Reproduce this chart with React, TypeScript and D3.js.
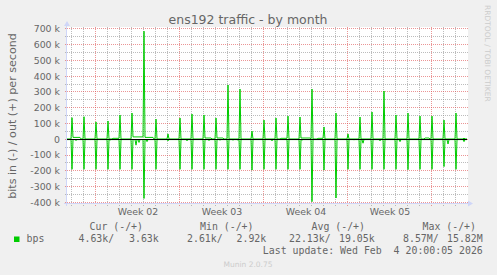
import React from "react";
import * as d3 from "d3";

const W = 497;
const H = 275;

// ---- data (values in k bits/s) ----
const spikeDays = [
  "2026-01-03", "2026-01-04", "2026-01-05", "2026-01-06", "2026-01-07", "2026-01-08", "2026-01-09",
  "2026-01-10", "2026-01-11", "2026-01-12", "2026-01-13", "2026-01-14", "2026-01-15", "2026-01-16",
  "2026-01-17", "2026-01-18", "2026-01-19", "2026-01-20", "2026-01-21", "2026-01-22", "2026-01-23",
  "2026-01-24", "2026-01-25", "2026-01-26", "2026-01-27", "2026-01-28", "2026-01-29", "2026-01-30",
  "2026-01-31", "2026-02-01", "2026-02-02", "2026-02-03", "2026-02-04",
];
const outPeaks = [
  137, 143, 110, 116, 154, 166, 685, 128, 34, 135, 160, 154, 135, 344, 318, 52, 122, 135, 147, 141,
  318, 78, 166, 34, 141, 173, 306, 154, 166, 147, 147, 122, 166,
];
const inPeaks = [
  -190, -190, -190, -190, -190, -190, -375, -190, -10, -190, -190, -190, -190, -190, -190, -195, -190,
  -190, -190, -190, -395, -195, -372, -190, -190, -190, -190, -190, -192, -190, -190, -173, -190,
];
const outPlateaus: [string, string, number][] = [
  ["2026-01-03T02", "2026-01-03T16", 12],
  ["2026-01-06T10", "2026-01-06T22", 6],
  ["2026-01-08T02", "2026-01-08T22", 15],
  ["2026-01-09T02", "2026-01-09T18", 12],
  ["2026-01-14T02", "2026-01-14T14", 8],
  ["2026-01-15T02", "2026-01-15T14", 8],
  ["2026-01-20T10", "2026-01-20T22", 6],
  ["2026-01-22T02", "2026-01-22T20", 8],
  ["2026-01-23T12", "2026-01-23T22", 6],
  ["2026-02-01T10", "2026-02-01T18", 8],
];
const outBumps: [string, number][] = [["2026-02-04T16", 8]];
const inDips: [string, number][] = [
  ["2026-01-03T08", -8], ["2026-01-06T04", -5], ["2026-01-08T08", -37], ["2026-01-08T14", -20],
  ["2026-01-09T06", -15], ["2026-01-12T14", -10], ["2026-01-14T10", -8], ["2026-01-15T08", -5],
  ["2026-01-16T10", -5], ["2026-01-16T20", -5], ["2026-01-19T16", -10], ["2026-01-22T04", -5],
  ["2026-01-26T12", -3], ["2026-01-27T06", -25], ["2026-01-28T16", -10], ["2026-01-30T08", -15],
  ["2026-02-03T08", -30], ["2026-02-04T16", -15],
];
const outBase = 2;
const inBase = -2;

const startTime = "2026-01-02T14";
const endTime = "2026-02-04T22";

const yTicks = [700, 600, 500, 400, 300, 200, 100, 0, -100, -200, -300, -400];
const weekLabels = ["Week 02", "Week 03", "Week 04", "Week 05"];
const weekMids = ["2026-01-08T12", "2026-01-15T12", "2026-01-22T12", "2026-01-29T12"];

const legendHeaders = ["Cur (-/+)", "Min (-/+)", "Avg (-/+)", "Max (-/+)"];
const legendValues = ["4.63k/", "3.63k", "2.61k/", "2.92k", "22.13k/", "19.05k", "8.57M/", "15.82M"];
const lastUpdate = "Last update: Wed Feb  4 20:00:05 2026";

// ---- helpers ----
const HOUR2 = 2 * 3600 * 1000;
const parse = (s: string) =>
  new Date(s.length === 10 ? s + "T00:00:00Z" : s + ":00:00Z").getTime();

function buildSeries(
  peaks: number[],
  plateaus: [string, string, number][],
  marks: [string, number][],
  base: number
): [number, number][] {
  const m = new Map<number, number>();
  spikeDays.forEach((d, i) => m.set(parse(d), peaks[i] * 1000));
  marks.forEach(([s, v]) => m.set(parse(s), v * 1000));
  plateaus.forEach(([s, e, v]) => {
    m.set(parse(s), v * 1000);
    m.set(parse(e), v * 1000);
  });
  const setIf = (t: number, v: number) => {
    if (!m.has(t)) m.set(t, v);
  };
  spikeDays.forEach((d) => {
    const t = parse(d);
    setIf(t - HOUR2, base * 1000);
    setIf(t + HOUR2, base * 1000);
  });
  marks.forEach(([s]) => {
    const t = parse(s);
    setIf(t - HOUR2, base * 1000);
    setIf(t + HOUR2, base * 1000);
  });
  plateaus.forEach(([s, e]) => {
    setIf(parse(s) - HOUR2, base * 1000);
    setIf(parse(e) + HOUR2, base * 1000);
  });
  setIf(parse(startTime), base * 1000);
  setIf(parse(endTime), base * 1000);
  return [...m.entries()]
    .filter(([t]) => t >= parse(startTime) && t <= parse(endTime))
    .sort((a, b) => a[0] - b[0]);
}

export default function App() {
  const x = d3.scaleUtc().domain([parse(startTime), parse(endTime)]).range([67, 467]);
  const y = d3.scaleLinear().domain([-410000, 700000]).range([204, 28.8]);
  const crisp = (v: number) => Math.floor(v) + 0.5;

  const outSeries = buildSeries(outPeaks, outPlateaus, outBumps, outBase);
  const inSeries = buildSeries(inPeaks, [], inDips, inBase);
  const line = d3
    .line<[number, number]>()
    .x((d) => x(d[0]))
    .y((d) => y(d[1]));

  const days = d3.utcDay.range(new Date(parse(startTime)), new Date(parse(endTime)));
  const minorY = d3.range(-400000, 700001, 50000).filter((v) => v % 100000 !== 0);

  const font = "'DejaVu Sans', sans-serif";
  const mono = "'DejaVu Sans Mono', monospace";
  const fc = "#666666";
  const axisC = "#CFD6F8";
  const grid = "rgba(143,143,143,0.6)";
  const mgrid = "rgba(222,79,79,0.6)";

  const valueX = [78.5, 129, 187, 236.5, 289, 339, 403, 447];
  const headerX = [89.5, 200, 311.5, 422.5];

  return (
    <svg
      width={W}
      height={H}
      style={{ position: "absolute", left: 0, top: 0 }}
      xmlns="http://www.w3.org/2000/svg"
    >
      <rect x={0} y={0} width={W} height={H} fill="#F0F0F0" />
      <rect x={67} y={27} width={401} height={177} fill="#FFFFFF" />

      {/* minor horizontal grid */}
      {minorY.map((v) => (
        <line key={"my" + v} x1={65} x2={468} y1={crisp(y(v))} y2={crisp(y(v))}
          stroke={grid} strokeDasharray="1,1" strokeWidth={1} />
      ))}
      {/* vertical grid */}
      {days.map((d) => {
        const isMajor = d.getUTCDay() === 1;
        const xx = crisp(x(d) - 0.5);
        return (
          <line key={"vx" + d.getTime()} x1={xx} x2={xx} y1={27} y2={206}
            stroke={isMajor ? mgrid : grid} strokeDasharray="1,1" strokeWidth={1} />
        );
      })}
      {/* major horizontal grid */}
      {yTicks.map((v) => (
        <line key={"My" + v} x1={65} x2={468} y1={crisp(y(v * 1000))} y2={crisp(y(v * 1000))}
          stroke={mgrid} strokeDasharray="1,1" strokeWidth={1} />
      ))}

      {/* axes */}
      <line x1={66.5} x2={66.5} y1={206} y2={24} stroke={axisC} strokeWidth={1} />
      <polygon points="64,26 70,26 67,21" fill={axisC} />
      <line x1={64} x2={469} y1={203.5} y2={203.5} stroke={axisC} strokeWidth={1} />
      <polygon points="468,200.5 468,206.5 473,203.5" fill={axisC} />

      {/* series */}
      <path d={line(outSeries) || ""} fill="none" stroke="#00CC00" strokeWidth={1} />
      <path d={line(inSeries) || ""} fill="none" stroke="#00CC00" strokeWidth={1} />
      <line x1={67} x2={467} y1={crisp(y(0))} y2={crisp(y(0))} stroke="#000000" strokeWidth={1} />

      {/* y tick labels */}
      {yTicks.map((v) => (
        <text key={"yl" + v} x={60} y={y(v * 1000) + 3.4} textAnchor="end"
          fontFamily={font} fontSize={9.4} fill={fc}>
          {v === 0 ? "0" : `${v} k`}
        </text>
      ))}
      {/* x labels */}
      {weekLabels.map((l, i) => (
        <text key={l} x={x(parse(weekMids[i]))} y={215.3} textAnchor="middle"
          fontFamily={font} fontSize={9.4} fill={fc}>
          {l}
        </text>
      ))}

      {/* title */}
      <text x={248} y={24} textAnchor="middle" fontFamily={font} fontSize={12.5} fill={fc}>
        ens192 traffic - by month
      </text>
      {/* y axis title */}
      <text transform="translate(15.5,116) rotate(-90)" textAnchor="middle"
        fontFamily={font} fontSize={11.1} fill={fc}>
        bits in (-) / out (+) per second
      </text>
      {/* watermark side */}
      <text transform="translate(485,5) rotate(90)" textAnchor="start"
        fontFamily={font} fontSize={7.5} fill="#CCCCCC">
        RRDTOOL / TOBI OETIKER
      </text>

      {/* legend */}
      {legendHeaders.map((h, i) => (
        <text key={h} x={headerX[i]} y={230} fontFamily={mono} fontSize={9.9} fill={fc}
          style={{ whiteSpace: "pre" }}>
          {h}
        </text>
      ))}
      <rect x={14} y={236.5} width={5.5} height={5.5} fill="#00CC00" />
      <text x={26.5} y={242.3} fontFamily={mono} fontSize={9.9} fill={fc}>bps</text>
      {legendValues.map((v, i) => (
        <text key={"lv" + i} x={valueX[i]} y={242.3} fontFamily={mono} fontSize={9.9} fill={fc}>
          {v}
        </text>
      ))}
      <text x={482.8} y={254} textAnchor="end" fontFamily={mono} fontSize={9.9} fill={fc}
        style={{ whiteSpace: "pre" }}>
        {lastUpdate}
      </text>
      <text x={248} y={267} textAnchor="middle" fontFamily={font} fontSize={7.5} fill="#CCCCCC">
        Munin 2.0.75
      </text>
    </svg>
  );
}
